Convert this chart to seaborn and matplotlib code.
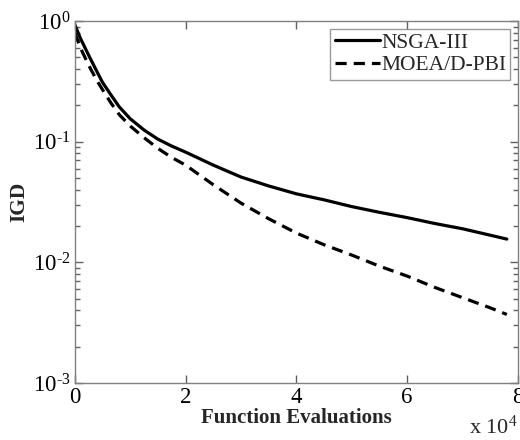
import numpy as np
import pandas as pd
import matplotlib
matplotlib.use("Agg")
import matplotlib.pyplot as plt
import seaborn as sns
from matplotlib.ticker import FuncFormatter, LogLocator, NullFormatter, FixedLocator

# valori (evaluari in unitati de 1e4)
evals = [0, 0.1, 0.25, 0.4, 0.5, 0.65, 0.8, 1, 1.25, 1.5, 1.75, 2, 2.5, 3, 3.5, 4, 4.5,
         5, 5.5, 6, 6.5, 7, 7.5, 7.8]
igd_nsga3 = [0.93, 0.72, 0.52, 0.38, 0.31, 0.245, 0.195, 0.155, 0.125, 0.105, 0.092, 0.082,
             0.064, 0.051, 0.043, 0.037, 0.033, 0.029, 0.026, 0.0235, 0.021, 0.019, 0.0168, 0.0156]
igd_moead = [0.80, 0.60, 0.43, 0.32, 0.27, 0.21, 0.168, 0.135, 0.108, 0.088, 0.074, 0.064,
             0.044, 0.031, 0.023, 0.0175, 0.014, 0.0115, 0.0093, 0.0077, 0.0062, 0.0051, 0.0042, 0.0037]
algorithms = ['NSGA-III', 'MOEA/D-PBI']
x_ticks = [0, 2, 4, 6, 8]
y_ticks = [1e-3, 1e-2, 1e-1, 1]

x_raw = [e * 1e4 for e in evals]
df = pd.DataFrame({
    'evals': x_raw * 2,
    'IGD': igd_nsga3 + igd_moead,
    'alg': [algorithms[0]] * len(evals) + [algorithms[1]] * len(evals),
})

sns.set_style("white")
plt.rcParams['font.family'] = ['Liberation Serif', 'DejaVu Serif']
plt.rcParams['mathtext.fontset'] = 'custom'
plt.rcParams['mathtext.rm'] = 'Liberation Serif'
plt.rcParams['mathtext.default'] = 'rm'
plt.rcParams['axes.unicode_minus'] = False


def log_label(v, p):
    e = int(round(np.log10(v)))
    s = str(e).replace('-', '\u2010')
    return r'10$^{%s}$' % s


fig = plt.figure(figsize=(5.2, 4.4), dpi=100)
ax = fig.add_axes([0.144, 0.1295, 0.852, 0.8225])

sns.lineplot(data=df, x='evals', y='IGD', style='alg', style_order=algorithms,
             dashes={'NSGA-III': '', 'MOEA/D-PBI': (3.5, 2.2)},
             color='black', linewidth=2.3, ax=ax)

ax.set_yscale('log')
ax.set_xlim(0, 8e4)
ax.set_ylim(1e-3, 1)
ax.set_xticks([t * 1e4 for t in x_ticks])
ax.xaxis.set_major_formatter(FuncFormatter(lambda v, p: f"{v / 1e4:g}"))
ax.yaxis.set_major_locator(FixedLocator(y_ticks))
ax.yaxis.set_major_formatter(FuncFormatter(log_label))
ax.yaxis.set_minor_locator(LogLocator(base=10, subs=np.arange(2, 10), numticks=20))
ax.yaxis.set_minor_formatter(NullFormatter())

for s in ax.spines.values():
    s.set_color('#808080')
    s.set_linewidth(1.0)
ax.tick_params(which='both', direction='in', left=True, bottom=True, top=True, right=True,
               color='#606060', width=1.0, labelsize=16.5, labelcolor='black')
ax.tick_params(which='major', length=6, pad=3)
ax.tick_params(which='minor', length=3.5)

ax.set_xlabel('Function Evaluations', fontsize=15, fontweight='bold', labelpad=0)
ax.set_ylabel('IGD', fontsize=15.5, fontweight='bold', labelpad=3)
fig.text(0.995, 0.002, r'x 10$^{4}$', fontsize=16, ha='right', va='bottom')

leg = ax.legend(loc='upper right', fontsize=15.5, frameon=True, fancybox=False,
                borderaxespad=0.35, handlelength=2.1, handletextpad=0.05,
                borderpad=0.2, labelspacing=0.1)
leg.get_frame().set_edgecolor('#808080')
leg.get_frame().set_linewidth(1.0)

fig.savefig('out.png', dpi=100)
